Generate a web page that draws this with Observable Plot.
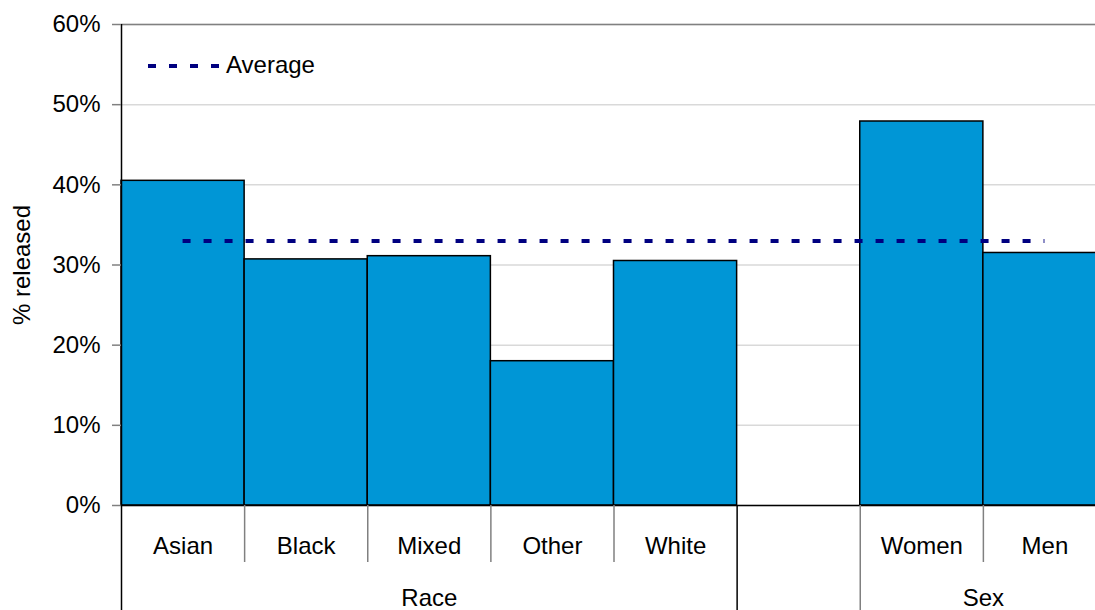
<!DOCTYPE html>
<html>
<head>
<meta charset="utf-8">
<script src="https://cdn.jsdelivr.net/npm/d3@7"></script>
<script src="https://cdn.jsdelivr.net/npm/@observablehq/plot@0.6"></script>
<style>
  html, body { margin: 0; padding: 0; background: #fff; overflow: hidden; }
  #wrap { position: relative; width: 1095px; height: 610px; overflow: hidden; font-family: "Liberation Sans", Arial, sans-serif; }
  #legendLine { position: absolute; left: 148px; top: 54px; }
  #legendText { position: absolute; left: 226px; top: 53px; font-size: 24px; line-height: 24px; color: #000; }
</style>
</head>
<body>
<div id="wrap"></div>
<script>
// ---- data ----
const raceCategories = ["Asian", "Black", "Mixed", "Other", "White"];
const raceValues = [0.405, 0.307, 0.311, 0.180, 0.305];
const sexCategories = ["Women", "Men"];
const sexValues = [0.479, 0.315];
const groupLabels = ["Race", "Sex"];
const averageValue = 0.33;
const yTicks = [0, 0.1, 0.2, 0.3, 0.4, 0.5, 0.6];
const legendLabel = "Average";
const yLabel = "% released";

// ---- derived tables ----
const raceStart = 0;
const raceEnd = raceCategories.length;          // one empty slot between groups
const sexStart = raceEnd + 1;
const nSlots = sexStart + sexCategories.length;

const rows = raceCategories.map((c, i) => ({category: c, value: raceValues[i], slot: raceStart + i}))
  .concat(sexCategories.map((c, i) => ({category: c, value: sexValues[i], slot: sexStart + i})));

const groups = [
  {label: groupLabels[0], start: raceStart, end: raceEnd},
  {label: groupLabels[1], start: sexStart, end: nSlots}
];
const innerSeps = [];
groups.forEach(g => { for (let s = g.start + 1; s < g.end; s++) innerSeps.push(s); });

const barColor = "#0096d6";
const avgColor = "#000080";

const chart = Plot.plot({
  width: 1106,
  height: 610,
  marginLeft: 121,
  marginRight: 0,
  marginTop: 24,
  marginBottom: 105,
  style: {fontSize: "24px", fontFamily: "'Liberation Sans', Arial, sans-serif", color: "#000", background: "#fff", maxWidth: "none", overflow: "visible"},
  x: {type: "linear", domain: [0, nSlots]},
  y: {domain: [0, 0.6]},
  marks: [
    Plot.gridY(yTicks, {stroke: "#d9d9d9", strokeOpacity: 1, strokeWidth: 1.5}),
    Plot.ruleY([yTicks[yTicks.length - 1]], {stroke: "#808080", strokeWidth: 1.5}),
    Plot.rectY(rows, {x1: "slot", x2: d => d.slot + 1, y: "value", fill: barColor, stroke: "#000", strokeWidth: 1.5}),
    Plot.ruleY([averageValue], {x1: rows[0].slot + 0.5, x2: rows[rows.length - 1].slot + 0.5, stroke: avgColor, strokeWidth: 4, strokeDasharray: "8,13"}),
    Plot.ruleY([0], {stroke: "#000", strokeWidth: 1.5}),
    Plot.ruleX([0], {stroke: "#000", strokeWidth: 1.5}),
    Plot.axisY({ticks: yTicks, tickFormat: d3.format(".0%"), tickSize: 9, tickPadding: 12, stroke: "#808080", strokeWidth: 1.5, label: null}),
    Plot.axisX({ticks: innerSeps, tickSize: 57, tickFormat: () => "", stroke: "#808080", strokeWidth: 1.5, label: null}),
    Plot.axisX({ticks: [groups[0].start, groups[0].end], tickSize: 105, tickFormat: () => "", stroke: "#000", strokeWidth: 1.5, label: null}),
    Plot.axisX({ticks: [groups[1].start], tickSize: 105, tickFormat: () => "", stroke: "#808080", strokeWidth: 1.5, label: null}),
    Plot.text(rows, {x: d => d.slot + 0.5, frameAnchor: "bottom", dy: 41, text: "category", lineAnchor: "middle", fill: "#000"}),
    Plot.text(groups, {x: d => (d.start + d.end) / 2, frameAnchor: "bottom", dy: 93, text: "label", lineAnchor: "middle", fill: "#000"}),
    Plot.text([yLabel], {frameAnchor: "left", rotate: -90, dx: -99, text: d => d, textAnchor: "middle", lineAnchor: "middle", fill: "#000"})
  ]
});

const wrap = document.getElementById("wrap");
wrap.appendChild(chart);

// legend (dashed swatch + label)
const ns = "http://www.w3.org/2000/svg";
const lg = document.createElementNS(ns, "svg");
lg.setAttribute("id", "legendLine");
lg.setAttribute("width", 72);
lg.setAttribute("height", 24);
const ln = document.createElementNS(ns, "line");
ln.setAttribute("x1", 0); ln.setAttribute("x2", 72);
ln.setAttribute("y1", 12); ln.setAttribute("y2", 12);
ln.setAttribute("stroke", avgColor);
ln.setAttribute("stroke-width", 4);
ln.setAttribute("stroke-dasharray", "8,13");
lg.appendChild(ln);
wrap.appendChild(lg);
const lt = document.createElement("div");
lt.id = "legendText";
lt.textContent = legendLabel;
wrap.appendChild(lt);
</script>
</body>
</html>
